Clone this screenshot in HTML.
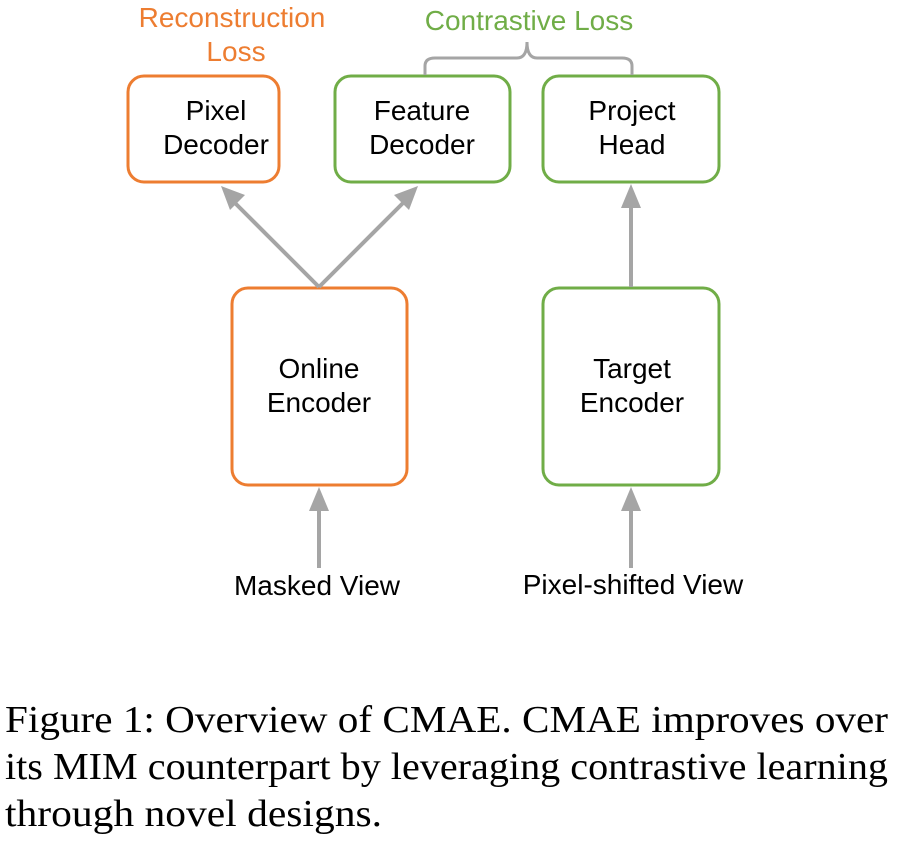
<!DOCTYPE html>
<html><head><style>body{margin:0;background:#fff}svg{display:block}</style></head>
<body>
<svg width="897" height="849" viewBox="0 0 897 849" xmlns="http://www.w3.org/2000/svg">
<g fill="none" stroke-width="3">
<rect x="128" y="76" width="151" height="106" rx="16" stroke="#ED7D31"/>
<rect x="335" y="76" width="175" height="106" rx="16" stroke="#70AD47"/>
<rect x="543" y="76" width="176" height="106" rx="16" stroke="#70AD47"/>
<rect x="232" y="288" width="175" height="197" rx="16" stroke="#ED7D31"/>
<rect x="543" y="288" width="176" height="197" rx="16" stroke="#70AD47"/>
</g>
<path d="M425,75 V66 Q425,58 435,58 H517 Q527,58 527,42 Q527,58 537,58 H622 Q632,58 632,66 V75" stroke="#A5A5A5" stroke-width="3" fill="none"/>
<g fill="#A5A5A5">
<line x1="319" y1="287" x2="230" y2="198" stroke="#A5A5A5" stroke-width="4"/>
<polygon points="221,186 245,195 230,210"/>
<line x1="319" y1="287" x2="408" y2="198" stroke="#A5A5A5" stroke-width="4"/>
<polygon points="418,186 394,195 409,210"/>
<line x1="631" y1="287" x2="631" y2="200" stroke="#A5A5A5" stroke-width="4"/>
<polygon points="631,184 621,208 641,208"/>
<line x1="319" y1="568" x2="319" y2="504" stroke="#A5A5A5" stroke-width="4"/>
<polygon points="319,487 309,511 329,511"/>
<line x1="631" y1="568" x2="631" y2="504" stroke="#A5A5A5" stroke-width="4"/>
<polygon points="631,487 621,511 641,511"/>
</g>
<g font-family="Liberation Sans, sans-serif" font-size="28" text-anchor="middle" fill="#000">
<text x="232" y="27" fill="#ED7D31">Reconstruction</text>
<text x="236" y="61" fill="#ED7D31">Loss</text>
<text x="529" y="30" fill="#70AD47">Contrastive Loss</text>
<text x="216" y="120">Pixel</text>
<text x="216" y="154">Decoder</text>
<text x="422" y="120">Feature</text>
<text x="422" y="154">Decoder</text>
<text x="632" y="120">Project</text>
<text x="632" y="154">Head</text>
<text x="319" y="378">Online</text>
<text x="319" y="412">Encoder</text>
<text x="632" y="378">Target</text>
<text x="632" y="412">Encoder</text>
<text x="317" y="595">Masked View</text>
<text x="633" y="594">Pixel-shifted View</text>
</g>
<g font-family="Liberation Serif, serif" font-size="38" fill="#000">
<text x="5" y="732" textLength="883" lengthAdjust="spacingAndGlyphs">Figure 1: Overview of CMAE. CMAE improves over</text>
<text x="5" y="779" textLength="883" lengthAdjust="spacingAndGlyphs">its MIM counterpart by leveraging contrastive learning</text>
<text x="5" y="826" textLength="377" lengthAdjust="spacingAndGlyphs">through novel designs.</text>
</g>
</svg>
</body></html>
